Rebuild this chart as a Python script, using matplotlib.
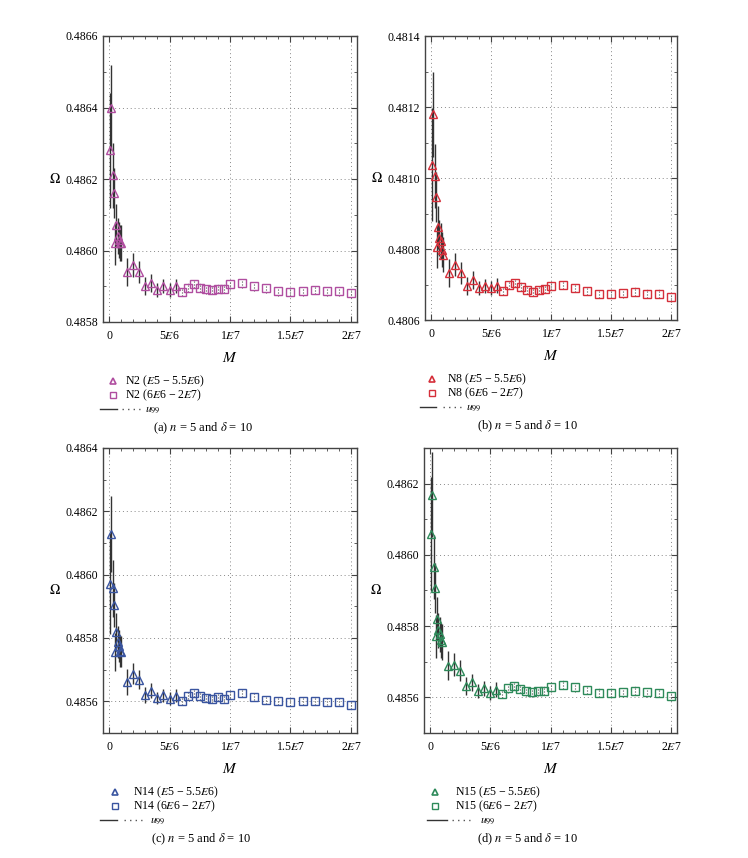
import matplotlib
matplotlib.use('Agg')
import matplotlib.pyplot as plt
from matplotlib.lines import Line2D
from matplotlib.ticker import MultipleLocator, FixedLocator

plt.rcParams['font.family'] = ['Liberation Serif', 'DejaVu Serif']
plt.rcParams['mathtext.fontset'] = 'stix'

# shared M positions
x_tri = [1e5, 2e5, 3e5, 4e5, 5e5, 6e5, 7e5, 8e5, 9e5, 1e6,
         1.5e6, 2e6, 2.5e6, 3e6, 3.5e6, 4e6, 4.5e6, 5e6, 5.5e6]
x_sq = [6e6, 6.5e6, 7e6, 7.5e6, 8e6, 8.5e6, 9e6, 9.5e6, 1e7,
        1.1e7, 1.2e7, 1.3e7, 1.4e7, 1.5e7, 1.6e7, 1.7e7, 1.8e7, 1.9e7, 2e7]

err_tri = [0.00016, 0.00012, 0.00009, 0.00007, 0.00006, 0.00006, 0.00005, 0.00005, 0.00005, 0.00005,
           0.00004, 0.000033, 0.00003, 0.000025, 0.000025, 0.00002, 0.00002, 0.00002, 0.00002]
err_sq = [0.000012] * 19

n2_tri = [0.48628, 0.48640, 0.48621, 0.48616, 0.48602, 0.48607, 0.48604, 0.48603, 0.48602, 0.48602,
          0.48594, 0.48596, 0.48594, 0.48590, 0.48591, 0.48589, 0.48590, 0.48589, 0.48590]
n2_sq = [0.485884, 0.485896, 0.485906, 0.485896, 0.485891, 0.485889, 0.485893, 0.485893, 0.485905,
         0.485908, 0.4859, 0.485894, 0.485886, 0.485884, 0.485886, 0.485889, 0.485886, 0.485886, 0.48588]

n8_tri = [0.481038, 0.48118, 0.481005, 0.480946, 0.480807, 0.480861, 0.480831, 0.480822, 0.480798, 0.480784,
          0.480732, 0.480756, 0.480732, 0.480696, 0.480713, 0.480691, 0.480696, 0.480691, 0.480697]
n8_sq = [0.480682, 0.480699, 0.480704, 0.480694, 0.480685, 0.48068, 0.480685, 0.480687, 0.480697,
         0.480699, 0.48069, 0.480682, 0.480673, 0.480674, 0.480675, 0.48068, 0.480674, 0.480674, 0.480664]

n14_tri = [0.485972, 0.486127, 0.485957, 0.485905, 0.485757, 0.48582, 0.485788, 0.485775, 0.485759, 0.485757,
           0.485661, 0.485687, 0.485668, 0.485621, 0.485634, 0.485611, 0.485619, 0.485608, 0.485618]
n14_sq = [0.4856, 0.485618, 0.485626, 0.485616, 0.485611, 0.485608, 0.485613, 0.485608, 0.485621,
          0.485625, 0.485615, 0.485605, 0.4856, 0.485598, 0.4856, 0.485602, 0.485599, 0.485599, 0.485589]

n15_tri = [0.486059, 0.486169, 0.485967, 0.485906, 0.485771, 0.485821, 0.485788, 0.485777, 0.48576, 0.485755,
           0.485689, 0.485692, 0.485675, 0.485633, 0.485642, 0.485617, 0.485625, 0.485613, 0.485622]
n15_sq = [0.485609, 0.485625, 0.485632, 0.485623, 0.485617, 0.485614, 0.485617, 0.485619, 0.485628,
          0.485636, 0.485628, 0.485621, 0.485613, 0.485613, 0.485614, 0.485619, 0.485614, 0.485612, 0.485603]

xtick_vals = [0, 5e6, 1e7, 1.5e7, 2e7]
xtick_labels = ['0', r'5$E$6', r'1$E$7', r'1.5$E$7', r'2$E$7']

W, H = 748, 858
fig = plt.figure(figsize=(W / 100, H / 100), dpi=100)

# name, tri, sq, color, ylim, yticks, caption, box(left, top, right, bottom px), legend x px, caption x
panels = [
    ('N2', n2_tri, n2_sq, '#B04EA0', (0.4858, 0.4866), [0.4858, 0.4860, 0.4862, 0.4864, 0.4866], '(a)',
     (103, 36, 357, 322), (113, 125, 100, 117, 122, 140, 145), 203),
    ('N8', n8_tri, n8_sq, '#D52F3A', (0.4806, 0.4814), [0.4806, 0.4808, 0.4810, 0.4812, 0.4814], '(b)',
     (425, 36, 677, 320), (432, 447, 420, 436, 443, 461, 466), 527),
    ('N14', n14_tri, n14_sq, '#3A55A0', (0.4855, 0.4864), [0.4856, 0.4858, 0.4860, 0.4862, 0.4864], '(c)',
     (103, 448, 357, 733), (115, 133, 100, 117, 124, 142, 150), 201),
    ('N15', n15_tri, n15_sq, '#2E8A5A', (0.4855, 0.4863), [0.4856, 0.4858, 0.4860, 0.4862], '(d)',
     (424, 448, 677, 733), (435, 455, 427, 447, 452, 470, 480), 527),
]


def fx(px):
    return px / W


def fy(py):
    return 1 - py / H


for name, tri, sq, col, ylim, yticks, cap, box, lx, capx in panels:
    l, t, r, b = box
    ax = fig.add_axes([fx(l), fy(b), (r - l) / W, (b - t) / H])
    ax.errorbar(x_tri, tri, yerr=err_tri, fmt='none', ecolor='#333333', elinewidth=1.0, capsize=0, zorder=2)
    eb = ax.errorbar(x_sq, sq, yerr=err_sq, fmt='none', ecolor='#555555', elinewidth=0.8, capsize=0, zorder=2)
    eb[2][0].set_linestyle(':')
    ax.plot(x_tri, tri, linestyle='none', marker='^', markersize=5.5, markerfacecolor='none',
            markeredgecolor=col, markeredgewidth=1.0, zorder=3)
    ax.plot(x_sq, sq, linestyle='none', marker='s', markersize=6, markerfacecolor='none',
            markeredgecolor=col, markeredgewidth=1.0, zorder=3)
    ax.set_xlim(-5e5, 2.05e7)
    ax.set_ylim(*ylim)
    ax.xaxis.set_major_locator(FixedLocator(xtick_vals))
    ax.set_xticklabels(xtick_labels)
    ax.xaxis.set_minor_locator(MultipleLocator(1e6))
    ax.set_yticks(yticks)
    ax.set_yticklabels(['%.4f' % v for v in yticks])
    ax.yaxis.set_minor_locator(MultipleLocator(0.0001))
    ax.tick_params(which='both', direction='in', top=True, right=True, color='#444444', labelsize=8.5)
    ax.tick_params(which='major', length=4)
    ax.tick_params(which='minor', length=2)
    ax.tick_params(axis='x', which='major', pad=6)
    ax.grid(True, which='major', linestyle=(0, (1, 3)), color='#888888', linewidth=0.7)
    for s in ax.spines.values():
        s.set_color('#444444')
        s.set_linewidth(1.0)
    ax.set_xlabel('$M$', fontsize=11, labelpad=6)

    fig.text(fx(l - 48), fy((t + b) / 2), r'$\Omega$', fontsize=10, ha='center', va='center')

    tri_x, txt_x, ln0, ln1, dt0, dt1, ux = lx
    fig.add_artist(Line2D([fx(tri_x)], [fy(b + 59)], marker='^', markersize=5, markerfacecolor='none',
                          markeredgecolor=col, markeredgewidth=1.2, linestyle='none'))
    fig.text(fx(txt_x), fy(b + 59), name + r' ($E$5 − 5.5$E$6)', fontsize=8.5, va='center')
    fig.add_artist(Line2D([fx(tri_x)], [fy(b + 73)], marker='s', markersize=5, markerfacecolor='none',
                          markeredgecolor=col, markeredgewidth=1.0, linestyle='none'))
    fig.text(fx(txt_x), fy(b + 73), name + r' (6$E$6 − 2$E$7)', fontsize=8.5, va='center')
    fig.add_artist(Line2D([fx(ln0), fx(ln1)], [fy(b + 87)] * 2, color='#333333', linewidth=1.0))
    fig.add_artist(Line2D([fx(dt0), fx(dt1)], [fy(b + 87)] * 2, color='#555555', linewidth=1.0,
                          linestyle=(0, (1, 3))))
    fig.text(fx(ux), fy(b + 87), r'$u_{99}$', fontsize=8.5, va='center')

    fig.text(fx(capx), fy(b + 106), cap + r' $n$ = 5 and $\delta$ = 10', fontsize=9,
             ha='center', va='center')

fig.savefig('out.png', dpi=100)
